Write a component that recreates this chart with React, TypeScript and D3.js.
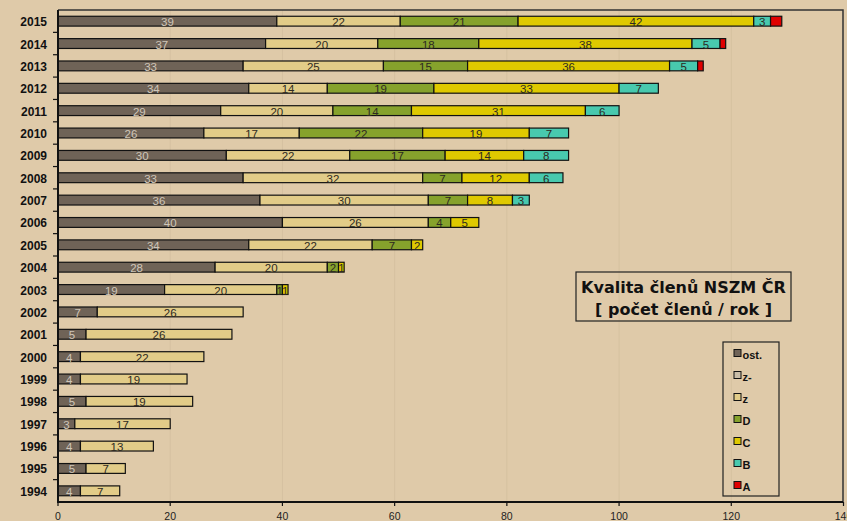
import { useEffect, useRef } from "react";
import * as d3 from "d3";

const roky = [2015, 2014, 2013, 2012, 2011, 2010, 2009, 2008, 2007, 2006, 2005, 2004, 2003, 2002, 2001, 2000, 1999, 1998, 1997, 1996, 1995, 1994];

const serie = ["ost.", "z-", "z", "D", "C", "B", "A"];
const barvy = ["#6f6357", "#c9bda8", "#e2cc88", "#86a22c", "#dfc900", "#48c9ae", "#e00000"];

const ost = [39, 37, 33, 34, 29, 26, 30, 33, 36, 40, 34, 28, 19, 7, 5, 4, 4, 5, 3, 4, 5, 4];
const zMinus = [0, 0, 0, 0, 0, 0, 0, 0, 0, 0, 0, 0, 0, 0, 0, 0, 0, 0, 0, 0, 0, 0];
const z = [22, 20, 25, 14, 20, 17, 22, 32, 30, 26, 22, 20, 20, 26, 26, 22, 19, 19, 17, 13, 7, 7];
const D = [21, 18, 15, 19, 14, 22, 17, 7, 7, 4, 7, 2, 1, 0, 0, 0, 0, 0, 0, 0, 0, 0];
const C = [42, 38, 36, 33, 31, 19, 14, 12, 8, 5, 2, 1, 1, 0, 0, 0, 0, 0, 0, 0, 0, 0];
const B = [3, 5, 5, 7, 6, 7, 8, 6, 3, 0, 0, 0, 0, 0, 0, 0, 0, 0, 0, 0, 0, 0];
const A = [2, 1, 1, 0, 0, 0, 0, 0, 0, 0, 0, 0, 0, 0, 0, 0, 0, 0, 0, 0, 0, 0];

const xTicks = [0, 20, 40, 60, 80, 100, 120, 140];

const ANCHO = 847;
const ALTO = 521;

export default function App() {
  const svgRef = useRef<SVGSVGElement>(null);

  useEffect(() => {
    if (!svgRef.current) return;
    const svg = d3.select(svgRef.current);
    svg.selectAll("*").remove();

    const hodnoty = [ost, zMinus, z, D, C, B, A];
    const tabulka = roky.map((r, i) => {
      const o: any = { rok: r };
      serie.forEach((s, k) => (o[s] = hodnoty[k][i]));
      return o;
    });

    const vlevo = 58, vpravo = 843, nahore = 10, dole = 502;

    svg.append("rect").attr("width", ANCHO).attr("height", ALTO).attr("fill", "#dfcaa9");

    const x = d3.scaleLinear().domain([0, 140]).range([vlevo, vpravo + 0.5]);
    const y = d3
      .scaleBand<number>()
      .domain(roky)
      .range([nahore, dole])
      .paddingInner(0.56)
      .paddingOuter(0.28);

    // mřížka
    svg
      .append("g")
      .selectAll("line")
      .data(xTicks.slice(1, -1))
      .enter()
      .append("line")
      .attr("x1", (d) => x(d))
      .attr("x2", (d) => x(d))
      .attr("y1", nahore)
      .attr("y2", dole)
      .attr("stroke", "#d5c1a0")
      .attr("stroke-width", 1);

    // rám
    svg
      .append("path")
      .attr("d", `M${vlevo},${nahore}H${vpravo}V${dole}`)
      .attr("fill", "none")
      .attr("stroke", "#333")
      .attr("stroke-width", 1.5);

    const stack = d3.stack<any>().keys(serie)(tabulka);

    const vrstva = svg
      .append("g")
      .selectAll("g")
      .data(stack)
      .enter()
      .append("g")
      .attr("fill", (_d, i) => barvy[i]);

    vrstva
      .selectAll("rect")
      .data((d) => d.filter((s) => s[1] - s[0] > 0))
      .enter()
      .append("rect")
      .attr("x", (d) => x(d[0]))
      .attr("y", (d) => y(d.data.rok)!)
      .attr("width", (d) => x(d[1]) - x(d[0]))
      .attr("height", y.bandwidth())
      .attr("stroke", "#111")
      .attr("stroke-width", 1.2);

    // popisky hodnot (u řady A nejsou vidět)
    vrstva
      .filter((d) => d.key !== "A")
      .selectAll("text")
      .data((d) => d.filter((s) => s[1] - s[0] > 0).map((s) => ({ s, key: d.key })))
      .enter()
      .append("text")
      .attr("x", (d) => (x(d.s[0]) + x(d.s[1])) / 2)
      .attr("y", (d) => y(d.s.data.rok)! + y.bandwidth() / 2 + 1)
      .attr("dominant-baseline", "central")
      .attr("text-anchor", "middle")
      .attr("font-family", "Liberation Sans, Arial, sans-serif")
      .attr("font-size", 11.5)
      .attr("fill", (d) => (d.key === "ost." ? "#cfc6b9" : "#2e2a22"))
      .text((d) => String(d.s[1] - d.s[0]));

    // osa y
    svg
      .append("line")
      .attr("x1", vlevo)
      .attr("x2", vlevo)
      .attr("y1", nahore)
      .attr("y2", dole)
      .attr("stroke", "#111")
      .attr("stroke-width", 2);

    const hranice = roky.map((_r, i) => nahore + (i * (dole - nahore)) / roky.length).slice(1);
    svg
      .append("g")
      .selectAll("line")
      .data(hranice)
      .enter()
      .append("line")
      .attr("x1", vlevo - 5)
      .attr("x2", vlevo)
      .attr("y1", (d) => d)
      .attr("y2", (d) => d)
      .attr("stroke", "#111")
      .attr("stroke-width", 1.2);

    svg
      .append("g")
      .selectAll("text")
      .data(roky)
      .enter()
      .append("text")
      .attr("x", 47)
      .attr("y", (d) => y(d)! + y.bandwidth() / 2 + 1)
      .attr("dominant-baseline", "central")
      .attr("text-anchor", "end")
      .attr("font-family", "Liberation Sans, Arial, sans-serif")
      .attr("font-weight", "bold")
      .attr("font-size", 12)
      .attr("fill", "#111")
      .text((d) => String(d));

    // osa x
    svg
      .append("line")
      .attr("x1", vlevo - 1)
      .attr("x2", vpravo)
      .attr("y1", dole)
      .attr("y2", dole)
      .attr("stroke", "#111")
      .attr("stroke-width", 2);

    const tick = svg.append("g").selectAll("g").data(xTicks).enter().append("g");
    tick
      .append("line")
      .attr("x1", (d) => x(d))
      .attr("x2", (d) => x(d))
      .attr("y1", dole)
      .attr("y2", dole + 4)
      .attr("stroke", "#111")
      .attr("stroke-width", 1.2);
    tick
      .append("text")
      .attr("x", (d) => x(d))
      .attr("y", 520)
      .attr("text-anchor", "middle")
      .attr("font-family", "Liberation Sans, Arial, sans-serif")
      .attr("font-size", 10.5)
      .attr("fill", "#222")
      .text((d) => String(d));

    // titulek
    svg
      .append("rect")
      .attr("x", 576)
      .attr("y", 272)
      .attr("width", 215)
      .attr("height", 49)
      .attr("fill", "none")
      .attr("stroke", "#222")
      .attr("stroke-width", 1.2);
    ["Kvalita členů NSZM ČR", "[ počet členů / rok ]"].forEach((t, i) => {
      svg
        .append("text")
        .attr("x", 683.5)
        .attr("y", 287 + i * 22)
        .attr("dominant-baseline", "central")
        .attr("text-anchor", "middle")
        .attr("font-family", "DejaVu Sans, Verdana, sans-serif")
        .attr("font-weight", "bold")
        .attr("font-size", 16)
        .attr("fill", "#111")
        .text(t);
    });

    // legenda
    svg
      .append("rect")
      .attr("x", 723)
      .attr("y", 342)
      .attr("width", 56)
      .attr("height", 154)
      .attr("fill", "none")
      .attr("stroke", "#222")
      .attr("stroke-width", 1.2);
    const polozka = svg
      .append("g")
      .selectAll("g")
      .data(serie)
      .enter()
      .append("g")
      .attr("transform", (_d, i) => `translate(734,${353 + i * 22})`);
    polozka
      .append("rect")
      .attr("x", 0)
      .attr("y", -3.5)
      .attr("width", 7)
      .attr("height", 7)
      .attr("fill", (_d, i) => barvy[i])
      .attr("stroke", "#111")
      .attr("stroke-width", 1);
    polozka
      .append("text")
      .attr("x", 8.5)
      .attr("y", 2)
      .attr("dominant-baseline", "central")
      .attr("font-family", "Liberation Sans, Arial, sans-serif")
      .attr("font-weight", "bold")
      .attr("font-size", 11)
      .attr("fill", "#111")
      .text((d) => d);
  }, []);

  return (
    <div style={{ position: "absolute", left: 0, top: 0 }}>
      <svg ref={svgRef} width={ANCHO} height={ALTO} viewBox={`0 0 ${ANCHO} ${ALTO}`} style={{ display: "block" }} />
    </div>
  );
}
